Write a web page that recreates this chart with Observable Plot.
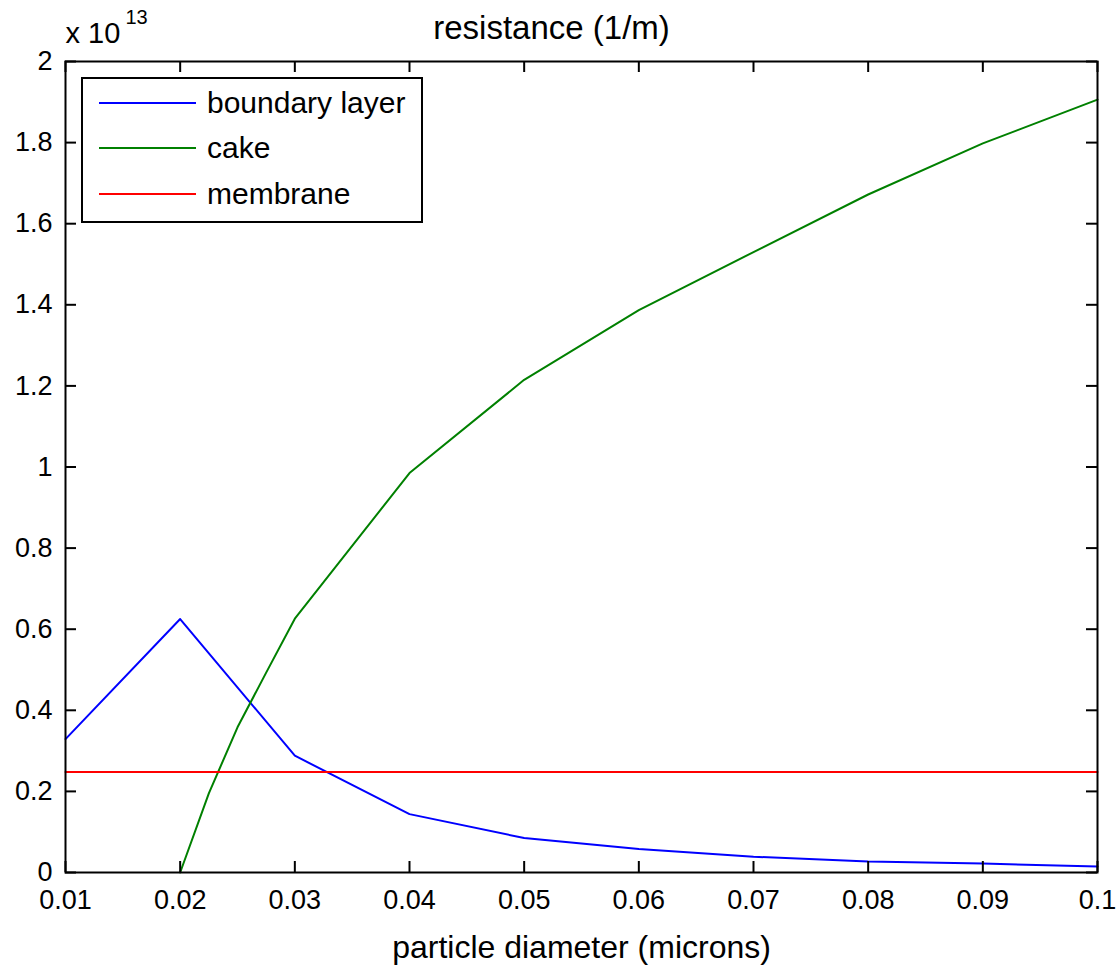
<!DOCTYPE html>
<html>
<head>
<meta charset="utf-8">
<script src="https://cdn.jsdelivr.net/npm/d3@7"></script>
<script src="https://cdn.jsdelivr.net/npm/@observablehq/plot@0.6"></script>
<style>
  body { margin: 0; background: #fff; }
  #wrap { position: relative; width: 1118px; height: 971px; font-family: "Liberation Sans", Arial, sans-serif; }
  .legend { position: absolute; left: 81px; top: 77px; width: 342px; height: 146px; border: 2px solid #000;
            background: #fff; box-sizing: border-box; padding-top: 1px; font-size: 30px; color: #000; }
  .row { height: 45.5px; display: flex; align-items: center; }
  .sw { width: 97px; height: 0; border-top: 2px solid; margin-left: 16px; margin-right: 11px; }
</style>
</head>
<body>
<div id="wrap"></div>
<script>
// x values (particle diameter, microns)
const diameters = [0.01, 0.02, 0.03, 0.04, 0.05, 0.06, 0.07, 0.08, 0.09, 0.1];
// resistance values in units of 1e13 1/m
const boundaryLayer = [0.329, 0.625, 0.288, 0.144, 0.085, 0.058, 0.039, 0.027, 0.022, 0.015];
const membrane = [0.248, 0.248, 0.248, 0.248, 0.248, 0.248, 0.248, 0.248, 0.248, 0.248];
const cakeDiameters = [0.02, 0.0225, 0.025, 0.0275, 0.03, 0.04, 0.05, 0.06, 0.07, 0.08, 0.09, 0.1];
const cake = [0, 0.195, 0.358, 0.493, 0.626, 0.985, 1.215, 1.387, 1.53, 1.672, 1.798, 1.906];

const seriesNames = ["boundary layer", "cake", "membrane"];
const seriesColors = ["#0000ff", "#008000", "#ff0000"];

const xTicks = [0.01, 0.02, 0.03, 0.04, 0.05, 0.06, 0.07, 0.08, 0.09, 0.1];
const yTicks = [0, 0.2, 0.4, 0.6, 0.8, 1, 1.2, 1.4, 1.6, 1.8, 2];

const titleText = ["resistance (1/m)"];
const xLabel = ["particle diameter (microns)"];
const expBase = ["x 10"];
const expPower = ["13"];

const W = 1118, H = 971, mL = 65, mR = 21, mT = 61, mB = 99;
const fw = W - mL - mR, fh = H - mT - mB, tick = 11;

const blData = diameters.map((d, i) => ({d, v: boundaryLayer[i]}));
const memData = diameters.map((d, i) => ({d, v: membrane[i]}));
const cakeData = cakeDiameters.map((d, i) => ({d, v: cake[i]}));

const chart = Plot.plot({
  width: W, height: H,
  marginLeft: mL, marginRight: mR, marginTop: mT, marginBottom: mB,
  style: { fontFamily: '"Liberation Sans", Arial, sans-serif', background: "#fff", color: "#000" },
  x: { domain: [0.01, 0.1] },
  y: { domain: [0, 2] },
  marks: [
    Plot.line(blData, { x: "d", y: "v", stroke: seriesColors[0], strokeWidth: 2 }),
    Plot.line(cakeData, { x: "d", y: "v", stroke: seriesColors[1], strokeWidth: 2 }),
    Plot.line(memData, { x: "d", y: "v", stroke: seriesColors[2], strokeWidth: 2 }),
    Plot.frame({ stroke: "#000", strokeWidth: 2 }),
    Plot.ruleX(xTicks, { x: d => d, insetTop: fh - tick, stroke: "#000", strokeWidth: 2 }),
    Plot.ruleX(xTicks, { x: d => d, insetBottom: fh - tick, stroke: "#000", strokeWidth: 2 }),
    Plot.ruleY(yTicks, { y: d => d, insetRight: fw - tick, stroke: "#000", strokeWidth: 2 }),
    Plot.ruleY(yTicks, { y: d => d, insetLeft: fw - tick, stroke: "#000", strokeWidth: 2 }),
    Plot.axisX({ ticks: xTicks, tickSize: 0, tickPadding: 17, fontSize: 27, label: null,
                 tickFormat: d => String(+d.toFixed(2)) }),
    Plot.axisY({ ticks: yTicks, tickSize: 0, tickPadding: 13, fontSize: 27, label: null,
                 tickFormat: d => String(+d.toFixed(1)) }),
    Plot.text(titleText, { text: d => d, frameAnchor: "top", dx: -30, dy: -33, fontSize: 33, lineAnchor: "middle" }),
    Plot.text(xLabel, { text: d => d, frameAnchor: "bottom", dy: 75, fontSize: 32, lineAnchor: "middle" }),
    Plot.text(expBase, { text: d => d, frameAnchor: "top-left", textAnchor: "start", dx: 0, dy: -28, fontSize: 29, lineAnchor: "middle" }),
    Plot.text(expPower, { text: d => d, frameAnchor: "top-left", textAnchor: "start", dx: 60, dy: -44, fontSize: 20, lineAnchor: "middle" })
  ]
});

const wrap = document.getElementById("wrap");
wrap.appendChild(chart);

const legend = document.createElement("div");
legend.className = "legend";
seriesNames.forEach((name, i) => {
  const row = document.createElement("div");
  row.className = "row";
  const sw = document.createElement("span");
  sw.className = "sw";
  sw.style.borderTopColor = seriesColors[i];
  const label = document.createElement("span");
  label.textContent = name;
  row.appendChild(sw);
  row.appendChild(label);
  legend.appendChild(row);
});
wrap.appendChild(legend);
</script>
</body>
</html>
